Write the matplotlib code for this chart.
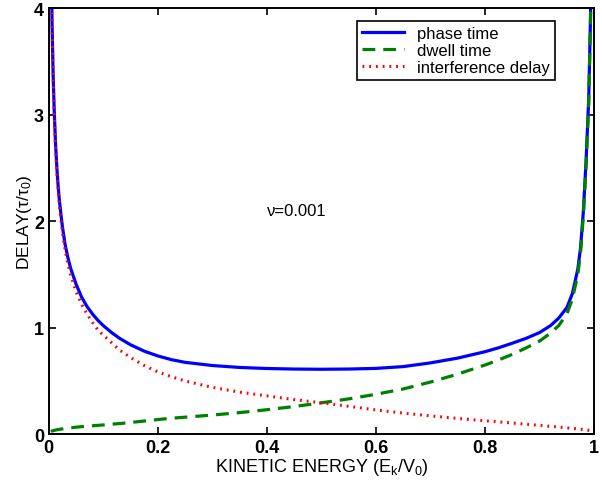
import matplotlib
matplotlib.use("Agg")
import matplotlib.pyplot as plt

plt.rcParams['font.family'] = ['Liberation Sans', 'DejaVu Sans']
plt.rcParams['mathtext.fontset'] = 'custom'
plt.rcParams['mathtext.rm'] = 'Liberation Sans'
plt.rcParams['mathtext.it'] = 'Liberation Sans'

# kinetic energy E_k/V0
energy = [0.004, 0.006, 0.008, 0.01, 0.0125, 0.015, 0.0175, 0.02, 0.025, 0.03,
          0.035, 0.04, 0.05, 0.06, 0.07, 0.08, 0.09, 0.1, 0.115, 0.13,
          0.15, 0.175, 0.2, 0.225, 0.25, 0.3, 0.35, 0.4, 0.45, 0.5,
          0.55, 0.6, 0.65, 0.7, 0.75, 0.8, 0.825, 0.85, 0.875, 0.9,
          0.92, 0.935, 0.95, 0.96, 0.97, 0.975, 0.98, 0.985, 0.99, 0.993, 0.996]
phase_time = [4.72, 3.88, 3.38, 3.04, 2.72, 2.49, 2.31, 2.17, 1.95, 1.78,
              1.66, 1.56, 1.41, 1.29, 1.2, 1.13, 1.07, 1.02, 0.955, 0.9,
              0.84, 0.78, 0.735, 0.7, 0.675, 0.645, 0.627, 0.617, 0.612, 0.61,
              0.612, 0.618, 0.635, 0.67, 0.715, 0.775, 0.812, 0.855, 0.9, 0.955,
              1.02, 1.09, 1.19, 1.32, 1.55, 1.75, 2.08, 2.55, 3.15, 3.85, 4.75]
dwell_time = [0.025, 0.03, 0.033, 0.036, 0.039, 0.042, 0.044, 0.046, 0.05, 0.054,
              0.057, 0.06, 0.066, 0.071, 0.075, 0.079, 0.083, 0.087, 0.094, 0.1,
              0.11, 0.124, 0.138, 0.15, 0.16, 0.18, 0.203, 0.23, 0.26, 0.295,
              0.332, 0.375, 0.425, 0.49, 0.565, 0.65, 0.698, 0.75, 0.81, 0.875,
              0.95, 1.02, 1.13, 1.27, 1.5, 1.7, 2.04, 2.51, 3.11, 3.82, 4.72]
interference_delay = [4.7, 3.85, 3.35, 3.0, 2.68, 2.45, 2.27, 2.12, 1.9, 1.73,
                      1.6, 1.5, 1.34, 1.22, 1.13, 1.05, 0.98, 0.93, 0.86, 0.79,
                      0.72, 0.645, 0.585, 0.54, 0.5, 0.44, 0.395, 0.36, 0.325, 0.295,
                      0.262, 0.228, 0.198, 0.172, 0.148, 0.126, 0.116, 0.105, 0.094, 0.083,
                      0.074, 0.067, 0.06, 0.055, 0.05, 0.047, 0.044, 0.04, 0.036, 0.033, 0.03]

fig = plt.figure(figsize=(6.02, 4.89), dpi=100)
ax = fig.add_axes([0.081, 0.110, 0.906, 0.871])

ax.plot(energy, phase_time, color=(0, 0, 1), lw=2.3, label="phase time")
ax.plot(energy, dwell_time, color=(0, 0.5, 0), lw=2.3, ls=(0, (4, 2.5)), label="dwell time")
ax.plot(energy, interference_delay, color=(1, 0, 0), lw=2.2, ls=(0, (0.6, 1.6)), label="interference delay")

ax.set_xlim(0, 1)
ax.set_ylim(0, 4)
ax.set_xticks([0, 0.2, 0.4, 0.6, 0.8, 1])
ax.set_xticklabels(["0", "0.2", "0.4", "0.6", "0.8", "1"])
ax.set_yticks([0, 1, 2, 3, 4])
ax.tick_params(direction="in", top=True, right=True, labelsize=13, length=5, width=1.2)
for lab in ax.get_xticklabels() + ax.get_yticklabels():
    lab.set_fontweight("bold")
for sp in ax.spines.values():
    sp.set_linewidth(1.4)

ax.set_xlabel(r"KINETIC ENERGY ($\mathregular{E_k/V_0}$)", fontsize=13, labelpad=0)
ax.set_ylabel(r"DELAY($\mathregular{\tau/\tau_0}$)", fontsize=12.5, labelpad=0)

ax.text(0.40, 2.1, "ν=0.001", fontsize=12, ha="left", va="center")

leg = ax.legend(loc="upper right", bbox_to_anchor=(0.928, 0.970), fontsize=12,
                fancybox=False, framealpha=1, edgecolor="black",
                handlelength=2.5, borderpad=0.3, labelspacing=0.12, borderaxespad=0)
leg.get_frame().set_linewidth(1.2)

fig.savefig("out.png", dpi=100)
